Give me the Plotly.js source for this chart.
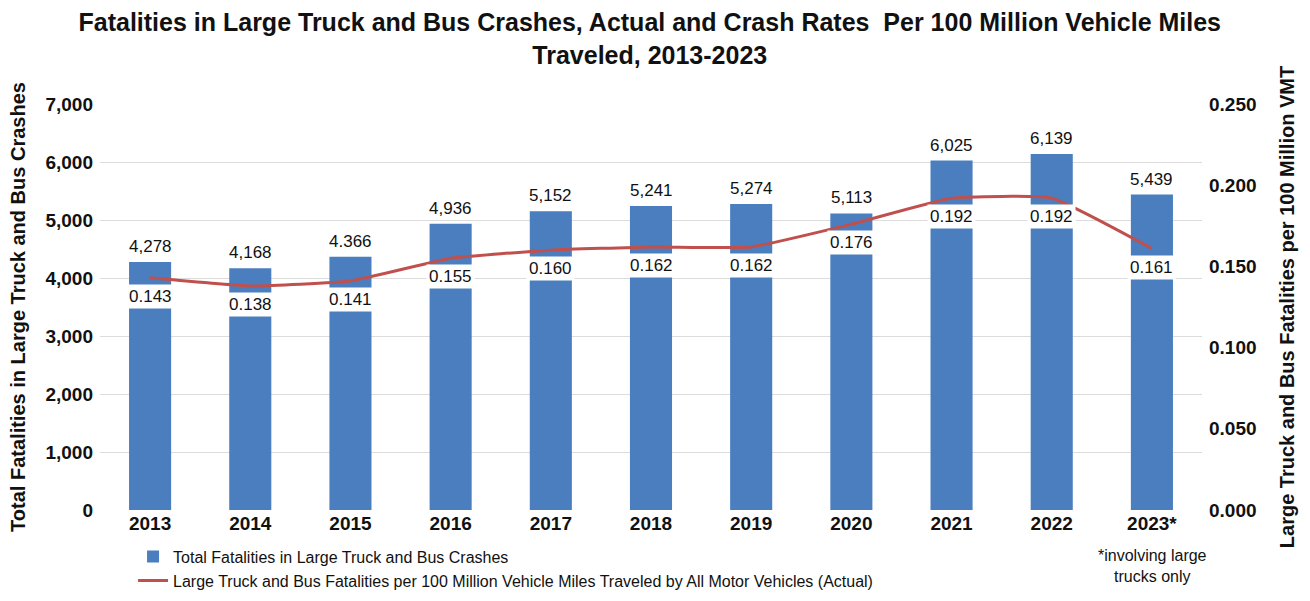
<!DOCTYPE html>
<html>
<head>
<meta charset="utf-8">
<script src="https://cdn.plot.ly/plotly-3.0.1.min.js"></script>
<style>
html,body{margin:0;padding:0;background:#fff;}
#chart{width:1310px;height:601px;}
</style>
</head>
<body>
<div id="chart"></div>
<script>
// ---- data ----
const years = ["2013","2014","2015","2016","2017","2018","2019","2020","2021","2022","2023*"];
const totalFatalities = [4278, 4168, 4366, 4936, 5152, 5241, 5274, 5113, 6025, 6139, 5439];
const totalLabels = ["4,278","4,168","4.366","4,936","5,152","5,241","5,274","5,113","6,025","6,139","5,439"];
const fatalityRates = [0.143, 0.138, 0.141, 0.155, 0.160, 0.162, 0.162, 0.176, 0.192, 0.192, 0.161];
const rateLabels = ["0.143","0.138","0.141","0.155","0.160","0.162","0.162","0.176","0.192","0.192","0.161"];
const leftTicks = [0,1000,2000,3000,4000,5000,6000,7000];
const leftTickText = ["0","1,000","2,000","3,000","4,000","5,000","6,000","7,000"];
const rightTicks = [0,0.05,0.10,0.15,0.20,0.25];
const rightTickText = ["0.000","0.050","0.100","0.150","0.200","0.250"];

const FONT = '"Liberation Sans Narrow", "Arial Narrow", "Liberation Sans", Arial, sans-serif';
const BLUE = '#4a7ebf';
const RED = '#c0504d';

const traces = [
  {
    type: 'bar', x: years, y: totalFatalities,
    name: 'Total Fatalities in Large Truck and Bus Crashes',
    marker: {color: BLUE}, width: 0.42, hoverinfo: 'x+y'
  },
  {
    type: 'scatter', mode: 'lines', x: years, y: fatalityRates, yaxis: 'y2',
    name: 'Large Truck and Bus Fatalities per 100 Million Vehicle Miles Traveled by All Motor Vehicles (Actual)',
    line: {color: RED, width: 3, shape: 'spline', smoothing: 0.4}
  }
];

const annotations = [];
years.forEach((yr, i) => {
  // category axis: position annotations by category index
  annotations.push({
    x: i, y: totalFatalities[i], xref: 'x', yref: 'y',
    text: totalLabels[i], showarrow: false, yanchor: 'bottom', yshift: 4,
    font: {family: FONT, size: 17, color: '#111'}
  });
  annotations.push({
    x: i, y: fatalityRates[i], xref: 'x', yref: 'y2',
    text: rateLabels[i], showarrow: false, yanchor: 'top', yshift: -6,
    bgcolor: '#ffffff', borderpad: 2,
    font: {family: FONT, size: 17, color: '#111'}
  });
});
annotations.push({
  xref: 'paper', yref: 'paper', x: 0.955, y: -0.086, xanchor: 'center', yanchor: 'top',
  text: '*involving large<br>trucks only', showarrow: false, align: 'center',
  font: {family: FONT, size: 16, color: '#111'}
});

const layout = {
  width: 1310, height: 601,
  margin: {l: 100, r: 108, t: 104, b: 91},
  paper_bgcolor: '#fff', plot_bgcolor: '#fff',
  font: {family: FONT, color: '#111'},
  title: {
    text: '<b>Fatalities in Large Truck and Bus Crashes, Actual and Crash Rates  Per 100 Million Vehicle Miles<br>Traveled, 2013-2023</b>',
    font: {family: FONT, size: 25, color: '#111'},
    x: 0.496, xanchor: 'center', y: 0.948, yanchor: 'top'
  },
  xaxis: {
    type: 'category', range: [-0.5, 10.5],
    showgrid: false, zeroline: false, showline: false, ticks: '',
    tickfont: {family: FONT, size: 19, color: '#111', weight: 'bold'}
  },
  yaxis: {
    range: [0, 7000], tickvals: leftTicks, ticktext: leftTickText,
    showgrid: true, gridcolor: '#dcdcdc', gridwidth: 1, zeroline: false, showline: false,
    ticks: '', ticklabelstandoff: 6,
    tickfont: {family: FONT, size: 19, color: '#111', weight: 'bold'},
    title: {text: '<b>Total Fatalities in Large Truck and Bus Crashes</b>', standoff: 14,
            font: {family: FONT, size: 20, color: '#111'}}
  },
  yaxis2: {
    overlaying: 'y', side: 'right', range: [0, 0.25],
    tickvals: rightTicks, ticktext: rightTickText,
    showgrid: false, zeroline: false, showline: false, ticks: '', ticklabelstandoff: 6,
    tickfont: {family: FONT, size: 19, color: '#111', weight: 'bold'},
    title: {text: '<b>Large Truck and Bus Fatalities per 100 Million VMT</b>', standoff: 24,
            font: {family: FONT, size: 20, color: '#111'}}
  },
  showlegend: true,
  legend: {
    orientation: 'v', x: 0.03, xanchor: 'left',
    yref: 'container', y: 0.102, yanchor: 'top',
    font: {family: FONT, size: 16, color: '#111'}, bgcolor: 'rgba(0,0,0,0)',
    tracegroupgap: 0
  },
  annotations: annotations
};

Plotly.newPlot('chart', traces, layout, {displayModeBar: false, staticPlot: true});
</script>
</body>
</html>
